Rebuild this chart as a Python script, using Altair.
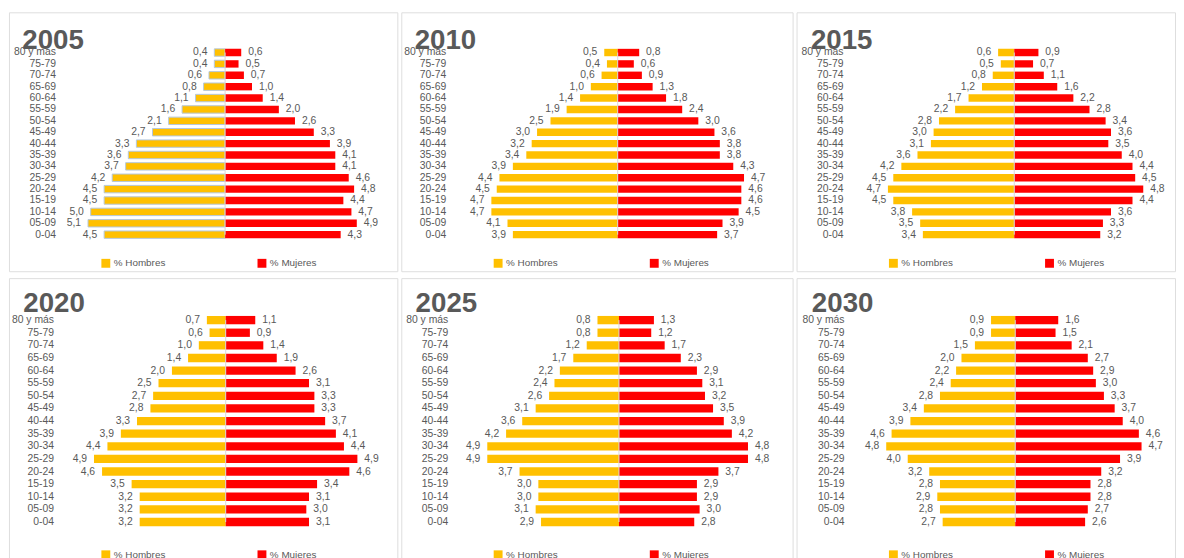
import altair as alt
import pandas as pd

# ---------------- data ----------------
ages = ["80 y más", "75-79", "70-74", "65-69", "60-64", "55-59", "50-54", "45-49",
        "40-44", "35-39", "30-34", "25-29", "20-24", "15-19", "10-14", "05-09", "0-04"]
years = ["2005", "2010", "2015", "2020", "2025", "2030"]
sexes = ["% Hombres", "% Mujeres"]

hombres_2005 = [0.4, 0.4, 0.6, 0.8, 1.1, 1.6, 2.1, 2.7, 3.3, 3.6, 3.7, 4.2, 4.5, 4.5, 5.0, 5.1, 4.5]
mujeres_2005 = [0.6, 0.5, 0.7, 1.0, 1.4, 2.0, 2.6, 3.3, 3.9, 4.1, 4.1, 4.6, 4.8, 4.4, 4.7, 4.9, 4.3]
hombres_2010 = [0.5, 0.4, 0.6, 1.0, 1.4, 1.9, 2.5, 3.0, 3.2, 3.4, 3.9, 4.4, 4.5, 4.7, 4.7, 4.1, 3.9]
mujeres_2010 = [0.8, 0.6, 0.9, 1.3, 1.8, 2.4, 3.0, 3.6, 3.8, 3.8, 4.3, 4.7, 4.6, 4.6, 4.5, 3.9, 3.7]
hombres_2015 = [0.6, 0.5, 0.8, 1.2, 1.7, 2.2, 2.8, 3.0, 3.1, 3.6, 4.2, 4.5, 4.7, 4.5, 3.8, 3.5, 3.4]
mujeres_2015 = [0.9, 0.7, 1.1, 1.6, 2.2, 2.8, 3.4, 3.6, 3.5, 4.0, 4.4, 4.5, 4.8, 4.4, 3.6, 3.3, 3.2]
hombres_2020 = [0.7, 0.6, 1.0, 1.4, 2.0, 2.5, 2.7, 2.8, 3.3, 3.9, 4.4, 4.9, 4.6, 3.5, 3.2, 3.2, 3.2]
mujeres_2020 = [1.1, 0.9, 1.4, 1.9, 2.6, 3.1, 3.3, 3.3, 3.7, 4.1, 4.4, 4.9, 4.6, 3.4, 3.1, 3.0, 3.1]
hombres_2025 = [0.8, 0.8, 1.2, 1.7, 2.2, 2.4, 2.6, 3.1, 3.6, 4.2, 4.9, 4.9, 3.7, 3.0, 3.0, 3.1, 2.9]
mujeres_2025 = [1.3, 1.2, 1.7, 2.3, 2.9, 3.1, 3.2, 3.5, 3.9, 4.2, 4.8, 4.8, 3.7, 2.9, 2.9, 3.0, 2.8]
hombres_2030 = [0.9, 0.9, 1.5, 2.0, 2.2, 2.4, 2.8, 3.4, 3.9, 4.6, 4.8, 4.0, 3.2, 2.8, 2.9, 2.8, 2.7]
mujeres_2030 = [1.6, 1.5, 2.1, 2.7, 2.9, 3.0, 3.3, 3.7, 4.0, 4.6, 4.7, 3.9, 3.2, 2.8, 2.8, 2.7, 2.6]

male = {"2005": hombres_2005, "2010": hombres_2010, "2015": hombres_2015,
        "2020": hombres_2020, "2025": hombres_2025, "2030": hombres_2030}
female = {"2005": mujeres_2005, "2010": mujeres_2010, "2015": mujeres_2015,
          "2020": mujeres_2020, "2025": mujeres_2025, "2030": mujeres_2030}

# ---------------- style ----------------
COLORS = ["#FFC000", "#FF0000"]
GRAY = "#595959"
FONT = "Liberation Sans"
PX_PER_UNIT = 27.2

WIDTHS = {"2005": 393, "2010": 396, "2015": 383, "2020": 393, "2025": 396, "2030": 383}
CENTERS = {"2005": 218.7, "2010": 219.0, "2015": 220.3, "2020": 219.3, "2025": 220.3, "2030": 221.3}
LABEL_EDGE = {"2005": 47, "2010": 45, "2015": 47, "2020": 45, "2025": 47, "2030": 48}
TITLE_LEFT = {"2005": 13, "2010": 13, "2015": 14, "2020": 14, "2025": 14, "2030": 15}
ROW = {"2005": 0, "2010": 0, "2015": 0, "2020": 1, "2025": 1, "2030": 1}
HEIGHTS = [262, 290]
PAD_INNER = [0.35, 0.34]
Y_RANGE = [[34.94, 230.78], [36.1, 253.2]]
TITLE_BASE = [37, 34]
LEGEND_Y = [249, 275]


def make_df(year):
    rows = []
    for a, h, m in zip(ages, male[year], female[year]):
        rows.append({"edad": a, "sexo": sexes[0], "valor": h, "pos": -h,
                     "label": f"{h:.1f}".replace(".", ","), "borde": year == "2005"})
        rows.append({"edad": a, "sexo": sexes[1], "valor": m, "pos": m,
                     "label": f"{m:.1f}".replace(".", ","), "borde": False})
    return pd.DataFrame(rows)


def panel(year):
    r = ROW[year]
    w = WIDTHS[year]
    c = CENTERS[year]
    df = make_df(year)
    xs = alt.Scale(domain=[-c / PX_PER_UNIT, (w - c) / PX_PER_UNIT], nice=False, zero=False)
    ys = alt.Scale(domain=ages, paddingInner=PAD_INNER[r], paddingOuter=PAD_INNER[r] / 2,
                   range=Y_RANGE[r])
    yaxis = alt.Axis(title=year, domain=False, ticks=False, grid=False, labelPadding=0,
                     offset=-LABEL_EDGE[year], labelFontSize=10.5, labelColor=GRAY, labelFont=FONT,
                     titleAngle=0, titleAlign="left", titleBaseline="alphabetic",
                     titleX=TITLE_LEFT[year] - LABEL_EDGE[year], titleY=TITLE_BASE[r],
                     titleFontSize=28, titleFontWeight="bold", titleColor=GRAY, titleFont=FONT)
    x_enc = alt.X("pos:Q", scale=xs, axis=None)
    y_enc = alt.Y("edad:N", scale=ys, sort=ages, axis=yaxis)

    base = alt.Chart(df)
    bars = base.mark_bar().encode(
        x=x_enc,
        y=y_enc,
        color=alt.Color("sexo:N", scale=alt.Scale(domain=sexes, range=COLORS),
                        legend=alt.Legend(orient="none", legendX=93, legendY=LEGEND_Y[r],
                                          direction="horizontal", title=None, symbolType="square",
                                          symbolSize=81, symbolStrokeWidth=0, labelFontSize=10,
                                          labelColor=GRAY, labelFont=FONT, columnPadding=92,
                                          labelOffset=3, padding=0)),
        stroke=alt.condition("datum.borde", alt.value("#b4c7dc"), alt.value("transparent")),
        strokeWidth=alt.condition("datum.borde", alt.value(1), alt.value(0)),
    )
    lab_h = base.transform_filter(f"datum.sexo == '{sexes[0]}'").mark_text(
        align="right", baseline="middle", dx=-7, fontSize=10.5, color=GRAY, font=FONT
    ).encode(x=x_enc, y=y_enc, text="label:N")
    lab_m = base.transform_filter(f"datum.sexo == '{sexes[1]}'").mark_text(
        align="left", baseline="middle", dx=7, fontSize=10.5, color=GRAY, font=FONT
    ).encode(x=x_enc, y=y_enc, text="label:N")
    rule = alt.Chart(pd.DataFrame({"centro": [0]})).mark_rule(color="#d9d9d9", strokeWidth=1).encode(
        x=alt.X("centro:Q", scale=xs, axis=None),
        y=alt.Y(datum=ages[0], type="nominal", scale=ys, axis=yaxis),
        y2=alt.Y2(datum=ages[-1]),
    )
    return alt.layer(bars, rule, lab_h, lab_m).properties(width=w, height=HEIGHTS[r])


def row(ys_):
    return alt.hconcat(*[panel(y) for y in ys_], spacing=2).resolve_scale(
        x="independent", y="independent", color="independent").resolve_legend(color="independent")


chart = alt.vconcat(row(years[:3]), row(years[3:]), spacing=5).resolve_scale(
    x="independent", y="independent", color="independent").resolve_legend(color="independent").properties(
    padding=0
).configure_view(stroke="#d9d9d9", strokeWidth=1).configure(font=FONT)

chart.save("out.html", embed_options={"renderer": "svg", "actions": False})
